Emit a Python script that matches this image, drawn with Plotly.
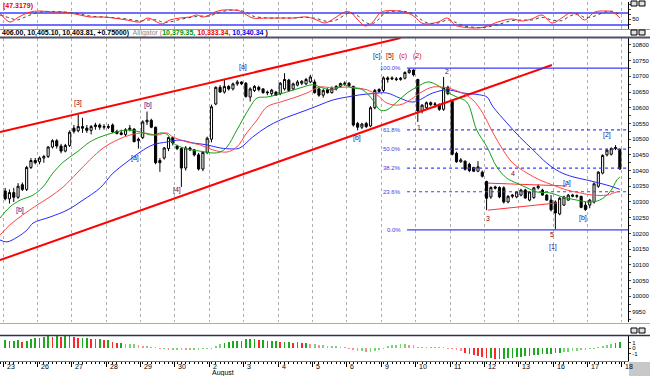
import plotly.graph_objects as go

# ---------------- DATA ----------------
# hourly bars (8 per session), DJIA, Jul 23 - Aug 17
opens = [10335,10310,10330,10315,10355,10340,10410,10432,
         10428,10440,10445,10475,10495,10478,10462,10480,
         10535,10527,10540,10535,10528,10540,10545,10538,
         10540,10545,10525,10520,10515,10530,10532,10495,
         10505,10555,10560,10538,10432,10440,10470,10505,
         10478,10470,10408,10472,10466,10450,10405,10458,
         10500,10612,10665,10650,10668,10660,10676,10682,
         10678,10634,10655,10665,10660,10650,10645,10650,
         10645,10660,10688,10660,10672,10678,10676,10682,
         10682,10660,10640,10658,10648,10660,10668,10675,
         10678,10668,10550,10538,10550,10542,10600,10658,
         10655,10690,10695,10692,10690,10694,10712,10720,
         10690,10590,10600,10616,10610,10610,10595,10665,
         10620,10455,10428,10430,10420,10410,10398,10395,
         10365,10316,10348,10346,10345,10300,10318,10316,
         10322,10338,10306,10314,10345,10338,10322,10306,
         10300,10262,10290,10306,10318,10318,10318,10290,
         10290,10300,10350,10392,10450,10452,10470,10468]
highs = [10345,10340,10345,10360,10362,10415,10440,10440,
         10445,10450,10478,10500,10500,10485,10485,10528,
         10545,10578,10568,10545,10545,10552,10550,10548,
         10548,10550,10530,10530,10535,10545,10535,10505,
         10560,10588,10565,10540,10440,10475,10508,10508,
         10482,10474,10478,10476,10468,10456,10462,10508,
         10610,10668,10672,10690,10672,10680,10688,10684,
         10682,10665,10672,10670,10662,10655,10660,10652,
         10682,10710,10692,10680,10688,10688,10695,10705,
         10690,10665,10660,10662,10668,10672,10680,10684,
         10682,10670,10555,10552,10555,10605,10660,10662,
         10700,10700,10700,10698,10698,10716,10726,10722,
         10692,10612,10620,10620,10618,10614,10698,10670,
         10625,10460,10440,10432,10425,10412,10430,10400,
         10368,10350,10352,10350,10350,10322,10325,10335,
         10342,10342,10335,10348,10356,10342,10325,10322,
         10305,10316,10320,10325,10326,10324,10320,10300,
         10310,10362,10398,10452,10470,10474,10481,10470]
lows = [10305,10295,10300,10310,10335,10335,10405,10420,
        10420,10425,10440,10470,10470,10455,10458,10475,
        10518,10522,10520,10520,10515,10530,10530,10530,
        10532,10520,10515,10512,10510,10525,10490,10470,
        10500,10545,10535,10420,10396,10435,10462,10480,
        10465,10348,10400,10462,10445,10400,10398,10452,
        10490,10608,10648,10645,10655,10655,10670,10672,
        10632,10620,10650,10652,10645,10640,10638,10638,
        10640,10655,10650,10655,10668,10672,10672,10678,
        10645,10635,10632,10645,10645,10655,10665,10670,
        10665,10540,10528,10532,10535,10538,10595,10648,
        10650,10680,10688,10685,10686,10690,10708,10700,
        10555,10582,10595,10605,10600,10590,10590,10640,
        10448,10425,10425,10400,10395,10395,10395,10378,
        10274,10310,10340,10312,10295,10296,10312,10312,
        10318,10310,10302,10310,10340,10320,10304,10270,
        10213,10258,10288,10304,10315,10312,10280,10272,
        10280,10295,10345,10388,10445,10448,10465,10403]
closes = [10310,10330,10315,10350,10340,10410,10432,10425,
          10440,10445,10475,10495,10478,10462,10480,10522,
          10525,10540,10535,10528,10540,10545,10538,10540,
          10538,10523,10518,10515,10530,10535,10492,10500,
          10555,10560,10538,10425,10425,10472,10505,10488,
          10470,10408,10472,10466,10450,10405,10458,10503,
          10603,10665,10650,10668,10660,10676,10682,10676,
          10636,10660,10668,10658,10648,10648,10656,10640,
          10678,10690,10655,10676,10682,10684,10690,10698,
          10648,10640,10655,10648,10662,10668,10677,10678,
          10670,10545,10538,10548,10540,10600,10655,10652,
          10695,10695,10692,10690,10694,10712,10720,10705,
          10590,10608,10616,10610,10612,10595,10665,10645,
          10452,10428,10434,10404,10400,10398,10412,10382,
          10312,10346,10344,10316,10300,10318,10322,10332,
          10338,10313,10332,10345,10350,10322,10306,10275,
          10265,10312,10316,10322,10322,10320,10283,10276,
          10306,10358,10395,10448,10465,10470,10473,10405]

day_labels = ["23", "26", "27", "28", "29", "30", "2", "3", "4", "5", "6",
              "9", "10", "11", "12", "13", "16", "17", "18"]
bars_per_day = 8
month_label = "August"
month_day_index = 6

# Alligator lines (bar position, price)
lips_x = [-1.2,1.1,3.5,6.5,8.8,11.1,13.5,16.7,19.7,22.1,25.1,28.3,31.4,34.2,36.5,37.9,39.0,42.3,45.3,
          48.3,50.0,51.6,53.9,57.0,58.6,60.9,63.2,65.5,68.6,71.6,73.9,76.3,78.6,80.9,83.2,85.5,87.2,
          88.8,91.1,93.5,95.8,98.3,100.4,102.8,105.1,107.4,109.7,112.1,114.4,116.7,119.0,121.4,123.7,
          126.7,129.7,133.0,136.0,138.3,140.7,142.3,143.0]
lips_y = [10249,10284,10306,10322,10348,10392,10427,10459,10491,10507,10520,10529,10523,10513,10520,10513,
          10488,10469,10462,10456,10459,10475,10529,10603,10631,10634,10641,10650,10663,10673,10663,10657,
          10673,10663,10657,10625,10593,10593,10618,10647,10666,10682,10673,10650,10634,10618,10529,10475,
          10411,10376,10360,10345,10332,10329,10316,10306,10300,10306,10332,10370,10379]
teeth_x = [-1.2,1.1,4.1,7.4,10.4,13.5,16.7,19.7,22.8,26.0,29.0,32.1,35.3,37.6,39.0,42.3,45.3,48.3,51.6,
           53.9,56.2,58.6,60.9,64.0,67.0,70.2,73.2,76.3,79.5,81.8,84.2,86.5,88.8,91.8,94.9,96.5,99.5,
           102.8,105.8,108.8,111.1,113.5,115.8,118.1,121.4,124.4,127.4,130.7,133.7,136.7,140.0,142.3,143.0]
teeth_y = [10195,10227,10259,10290,10316,10348,10392,10434,10472,10497,10513,10520,10513,10520,10507,10491,
           10482,10466,10459,10475,10520,10561,10603,10618,10631,10647,10666,10663,10666,10663,10657,10641,
           10615,10609,10631,10647,10666,10663,10650,10625,10583,10520,10466,10424,10392,10370,10354,10338,
           10329,10322,10322,10332,10333]
jaw_x = [-1.2,0.4,2.8,5.1,6.5,10.4,14.4,18.1,22.1,25.1,28.3,31.4,34.4,37.6,40.7,43.7,46.9,50.0,53.0,54.6,
         57.6,60.9,64.0,67.0,70.2,73.2,76.3,79.5,82.5,85.5,88.8,91.8,94.9,99.5,102.8,106.5,110.4,112.1,
         113.5,116.7,119.7,122.8,126.0,129.0,132.1,135.3,138.3,141.4,143.0]
jaw_y = [10179,10173,10188,10211,10233,10252,10274,10306,10345,10392,10427,10459,10482,10491,10497,10488,
         10482,10472,10469,10472,10507,10539,10561,10577,10593,10609,10625,10634,10641,10645,10647,10631,
         10618,10647,10657,10647,10641,10634,10603,10552,10507,10466,10424,10396,10380,10370,10360,10348,
         10340]

# trend lines (bar position, price)
channel_top_x = [-1.2, 92.0]
channel_top_y = [10523, 10822]
channel_bot_x = [-1.2, 127.2]
channel_bot_y = [10115, 10736]
tri_top_x = [112.3, 130.7]
tri_top_y = [10360, 10351]
tri_bot_x = [112.3, 128.4]
tri_bot_y = [10274, 10297]

# Fibonacci retracement
fib_high = 10726
fib_low = 10211
fib_start = 93.5
fib_ratios = [1.0, 0.618, 0.5, 0.382, 0.236, 0.0]

# wave labels (text, bar position, price, colour group)
wave_labels = [("[b]", 3.45, 10274, "b"), ("[3]", 16.9, 10615, "r"), ("[a]", 30.2, 10440, "b"),
               ("[b]", 33.2, 10609, "b"), ("[4]", 40.0, 10338, "r"), ("[a]", 55.3, 10730, "b"),
               ("[b]", 81.8, 10504, "b"), ("[c]", 86.5, 10765, "b"), ("[5]", 89.5, 10765, "r"),
               ("(c)", 92.6, 10765, "c"), ("(2)", 95.9, 10765, "c"), ("1", 96.3, 10536, "r"),
               ("2", 102.8, 10714, "r"), ("3", 112.3, 10249, "r"), ("4", 118.1, 10392, "r"),
               ("5", 127.2, 10195, "r"), ("[1]", 127.4, 10157, "b"), ("[a]", 130.7, 10360, "b"),
               ("[b]", 134.4, 10249, "b"), ("[2]", 140.0, 10513, "b")]

# stochastic oscillator (bar position, value)
stoch_x = [-1.2,1.1,2.8,4.1,5.8,8.1,11.1,13.5,15.1,17.4,19.7,22.8,25.1,28.3,31.4,33.2,35.3,36.5,38.3,
           40.7,43.0,44.6,46.0,47.6,48.8,50.7,53.0,54.6,56.2,57.6,60.9,64.0,67.0,70.2,72.5,74.4,76.7,
           79.0,80.2,82.1,83.7,85.3,87.2,88.3,91.4,93.7,95.3,96.9,98.3,100.7,103.0,104.6,106.3,109.3,
           111.6,114.6,117.9,120.2,122.5,124.9,127.2,129.5,131.4,133.2,134.8,137.2,139.5,141.4,143.0]
stoch_k = [80,35,55,70,85,90,85,85,80,70,60,60,55,45,35,55,35,25,45,55,60,70,60,70,85,95,95,90,70,55,55,
           55,55,60,45,30,55,85,85,45,15,30,80,90,90,80,60,30,25,35,55,20,10,5,10,35,50,40,50,70,30,55,
           80,70,45,85,90,85,55]
stoch_d = [70,55,45,55,70,85,88,85,83,75,65,60,57,50,40,45,45,35,35,48,57,63,65,65,75,88,95,93,82,65,55,
           55,55,58,52,40,42,70,80,65,35,25,55,80,90,85,72,45,30,30,45,35,18,8,8,22,42,45,45,58,45,42,
           65,75,58,65,85,88,70]
stoch_levels = [80, 20]

# histogram oscillator, one value per bar
hist_vals = [1.5,1.3,1.3,1.5,1.1,1.3,1.6,1.8,1.8,
             2.0,2.2,2.0,2.2,2.0,2.2,2.2,2.0,1.8,
             1.8,1.8,1.6,1.6,1.6,1.5,1.5,
             1.1,0.9,0.9,0.7,0.7,0.7,0.5,
             0.4,0.4,0.2,0.2,
             -0.2,-0.2,-0.4,-0.4,-0.4,-0.35,-0.4,-0.4,-0.35,-0.3,-0.2,-0.2,-0.1,
             0.4,0.7,0.9,1.1,1.3,1.3,1.3,
             1.6,1.6,1.6,1.5,1.5,1.3,1.3,1.3,1.1,
             1.1,1.1,0.9,1.1,0.9,0.9,0.7,
             0.7,0.5,0.5,0.4,0.4,0.4,0.2,0.2,
             -0.2,-0.4,-0.5,-0.5,-0.7,-0.7,-0.5,-0.4,-0.2,
             0.4,0.5,0.5,0.7,0.7,0.5,0.5,
             0.2,0.2,0.1,0.1,0.2,0.2,0.1,-0.1,
             -0.2,-0.4,-0.5,-0.9,-1.1,-1.3,-1.5,-1.6,-1.8,-1.8,-2.0,-2.0,
             -2.0,-1.8,-1.8,-1.6,-1.6,-1.5,-1.5,-1.3,-1.3,-1.1,-1.1,-1.1,-0.9,-0.9,
             -0.7,-0.7,-0.5,-0.5,-0.4,-0.4,-0.2,-0.2,
             0.2,0.4,0.5,0.7,0.9,1.1]

header_main = "406.00, 10,405.10, 10,403.81, +0.75000)"
header_ind = "Alligator ("
header_vals = ["10,379.35,", "10,333.34,", "10,340.34"]
osc_title = "(47.3179)"

price_ticks = list(range(9950, 10801, 50))

# ---------------- LAYOUT CONSTANTS ----------------
W, H = 650, 376
FONT = "Liberation Sans Narrow, Arial Narrow, Liberation Sans, Arial, sans-serif"
XR = [-1.2, 144.9]
XDOM = [0, 628 / W]
def py(p):  # pixel row -> paper y
    return 1 - p / H
OSC_DOM = [py(29), py(2)]
MAIN_DOM = [py(322), py(38)]
HIST_DOM = [py(361), py(336)]

n = len(closes)
xs = list(range(n))
boundaries = [bars_per_day * d - 0.5 for d in range(len(day_labels))]

fig = go.Figure()

# --- oscillator panel ---
for lv in stoch_levels:
    fig.add_trace(go.Scatter(x=XR, y=[lv, lv], mode="lines", xaxis="x", yaxis="y",
                             line=dict(color="rgb(110,110,255)", width=2), hoverinfo="skip"))
fig.add_trace(go.Scatter(x=stoch_x, y=stoch_d, mode="lines", xaxis="x", yaxis="y",
                         line=dict(color="rgb(70,70,70)", width=1, dash="dot", shape="spline")))
fig.add_trace(go.Scatter(x=stoch_x, y=stoch_k, mode="lines", xaxis="x", yaxis="y",
                         line=dict(color="rgb(255,40,40)", width=1, shape="spline")))

# --- main panel ---
fig.add_trace(go.Scatter(x=channel_top_x, y=channel_top_y, mode="lines", xaxis="x2", yaxis="y2",
                         line=dict(color="#ff0000", width=2)))
fig.add_trace(go.Scatter(x=channel_bot_x, y=channel_bot_y, mode="lines", xaxis="x2", yaxis="y2",
                         line=dict(color="#ff0000", width=2)))
for tx, ty in [(tri_top_x, tri_top_y), (tri_bot_x, tri_bot_y)]:
    fig.add_trace(go.Scatter(x=tx, y=ty, mode="lines", xaxis="x2", yaxis="y2",
                             line=dict(color="#ff3030", width=1)))
for r in fib_ratios:
    lvl = fib_low + (fib_high - fib_low) * r
    solid = r in (0.0, 1.0)
    fig.add_trace(go.Scatter(x=[fib_start, XR[1]], y=[lvl, lvl], mode="lines", xaxis="x2", yaxis="y2",
                             line=dict(color="rgb(60,60,255)", width=1.2,
                                       dash="solid" if solid else "dot")))
fig.add_trace(go.Scatter(x=jaw_x, y=jaw_y, mode="lines", xaxis="x2", yaxis="y2",
                         line=dict(color="rgb(40,40,255)", width=1, shape="spline")))
fig.add_trace(go.Scatter(x=teeth_x, y=teeth_y, mode="lines", xaxis="x2", yaxis="y2",
                         line=dict(color="rgb(255,70,70)", width=1, shape="spline")))
fig.add_trace(go.Scatter(x=lips_x, y=lips_y, mode="lines", xaxis="x2", yaxis="y2",
                         line=dict(color="rgb(20,160,20)", width=1, shape="spline")))
fig.add_trace(go.Candlestick(x=xs, open=opens, high=highs, low=lows, close=closes,
                             xaxis="x2", yaxis="y2", whiskerwidth=0,
                             increasing=dict(line=dict(color="black", width=1), fillcolor="white"),
                             decreasing=dict(line=dict(color="black", width=1), fillcolor="black")))

# --- histogram panel ---
hcolors = []
for i, v in enumerate(hist_vals):
    prev = hist_vals[i - 1] if i > 0 else v
    rising = v >= prev
    strong = abs(v) >= 0.8
    if rising:
        hcolors.append("rgb(30,170,30)" if strong else "rgb(120,210,120)")
    else:
        hcolors.append("rgb(255,40,40)" if strong else "rgb(255,140,140)")
fig.add_trace(go.Bar(x=xs, y=hist_vals, xaxis="x3", yaxis="y3", width=0.4,
                     marker=dict(color=hcolors, line=dict(width=0))))

# ---------------- AXES ----------------
grid = dict(showgrid=True, gridcolor="rgb(175,175,175)", griddash="dot", gridwidth=1)
tfont = dict(size=6, family=FONT, color="black")
fig.update_layout(
    width=W, height=H, margin=dict(l=0, r=0, t=0, b=0, autoexpand=False),
    paper_bgcolor="white", plot_bgcolor="white", showlegend=False,
    font=dict(family=FONT, size=7, color="black"), bargap=0,
    xaxis=dict(domain=XDOM, range=XR, anchor="y", tickvals=boundaries, showticklabels=False,
               ticks="", zeroline=False, **grid),
    xaxis2=dict(domain=XDOM, range=XR, anchor="y2", tickvals=boundaries, showticklabels=False,
                ticks="", zeroline=False, rangeslider=dict(visible=False), **grid),
    xaxis3=dict(domain=XDOM, range=XR, anchor="y3", tickvals=boundaries, showticklabels=False,
                ticks="outside", ticklen=5, tickcolor="black", showgrid=False, zeroline=False,
                showline=True, linecolor="rgb(120,120,120)", linewidth=1,
                minor=dict(ticks="outside", ticklen=2, dtick=1, tick0=0, tickcolor="black")),
    yaxis=dict(domain=OSC_DOM, range=[0, 135], anchor="x", side="right", tickvals=[50],
               ticktext=["50"], ticks="outside", ticklen=2, showline=True, linecolor="black",
               tickfont=tfont, showgrid=False, zeroline=False,
               minor=dict(ticks="outside", ticklen=2, dtick=25)),
    yaxis2=dict(domain=MAIN_DOM, range=[9918, 10822], anchor="x2", side="right",
                tickvals=price_ticks, ticktext=[str(t) for t in price_ticks], ticks="outside",
                ticklen=2, tickfont=tfont, showline=True, linecolor="black", showgrid=False,
                zeroline=False, minor=dict(ticks="outside", ticklen=2, dtick=25)),
    yaxis3=dict(domain=HIST_DOM, range=[-2.36, 2.18], anchor="x3", side="right",
                tickvals=[1, 0, -1], ticktext=["1", "0", "-1"], ticks="outside", ticklen=2,
                tickfont=tfont, showline=True, linecolor="black", showgrid=False, zeroline=False),
)

# ---------------- SHAPES ----------------
shapes = [
    dict(type="line", xref="paper", yref="paper", x0=0, x1=1, y0=py(29.5), y1=py(29.5),
         line=dict(color="rgb(150,150,165)", width=1)),
    dict(type="line", xref="paper", yref="paper", x0=0, x1=1, y0=py(37.5), y1=py(37.5),
         line=dict(color="rgb(80,80,104)", width=2)),
    dict(type="line", xref="paper", yref="paper", x0=0, x1=1, y0=py(323.5), y1=py(323.5),
         line=dict(color="rgb(170,170,170)", width=1)),
    dict(type="line", xref="paper", yref="paper", x0=0, x1=1, y0=py(335.5), y1=py(335.5),
         line=dict(color="rgb(48,48,80)", width=1.5)),
    dict(type="rect", xref="paper", yref="paper", x0=629 / W, x1=1, y0=0, y1=py(362),
         line=dict(width=0), fillcolor="rgb(200,200,200)"),
]
for top in (1, 30, 328):
    for left in (631, 639):
        shapes.append(dict(type="rect", xref="paper", yref="paper", x0=left / W, x1=(left + 6) / W,
                           y0=py(top + 5), y1=py(top), line=dict(color="black", width=1),
                           fillcolor="rgb(225,225,225)"))
fig.update_layout(shapes=shapes)

# ---------------- ANNOTATIONS ----------------
ann = []
for b, lab in zip(boundaries, day_labels):
    ann.append(dict(x=b + 0.35, y=py(366.5), xref="x3", yref="paper", text=lab, showarrow=False,
                    xanchor="left", yanchor="middle", font=dict(size=7)))
ann.append(dict(x=boundaries[month_day_index] + 0.1, y=py(372.5), xref="x3", yref="paper",
                text=month_label, showarrow=False, xanchor="left", yanchor="middle", font=dict(size=7)))
for r in fib_ratios:
    lvl = fib_low + (fib_high - fib_low) * r
    ann.append(dict(x=fib_start - 1.0, y=lvl, xref="x2", yref="y2", text=f"{r * 100:.1f}%",
                    showarrow=False, xanchor="right", yanchor="middle",
                    font=dict(size=6, color="rgb(60,60,220)")))
wave_colors = {"b": "rgb(20,20,140)", "r": "rgb(140,0,0)", "c": "rgb(210,0,0)"}
for txt, bx, pr, grp in wave_labels:
    ann.append(dict(x=bx, y=pr, xref="x2", yref="y2", text=txt, showarrow=False,
                    xanchor="center", yanchor="middle", font=dict(size=7, color=wave_colors[grp])))
header = (f"<b>{header_main}</b>  <span style='color:rgb(140,140,140)'>{header_ind}</span>"
          f"<b><span style='color:rgb(0,150,0)'>{header_vals[0]}</span> "
          f"<span style='color:rgb(230,0,0)'>{header_vals[1]}</span> "
          f"<span style='color:rgb(0,0,230)'>{header_vals[2]}</span> )</b>")
ann.append(dict(x=0, y=py(33), xref="paper", yref="paper", text=header, showarrow=False,
                xanchor="left", yanchor="middle", font=dict(size=7)))
ann.append(dict(x=0.002, y=py(5.5), xref="paper", yref="paper", text=f"<b>{osc_title}</b>",
                showarrow=False, xanchor="left", yanchor="middle",
                font=dict(size=7, color="rgb(230,0,0)")))
fig.update_layout(annotations=ann)

fig.write_html("out.html", config={"displayModeBar": False, "staticPlot": True},
               post_script="document.body.style.margin='0';document.body.style.overflow='hidden';")
